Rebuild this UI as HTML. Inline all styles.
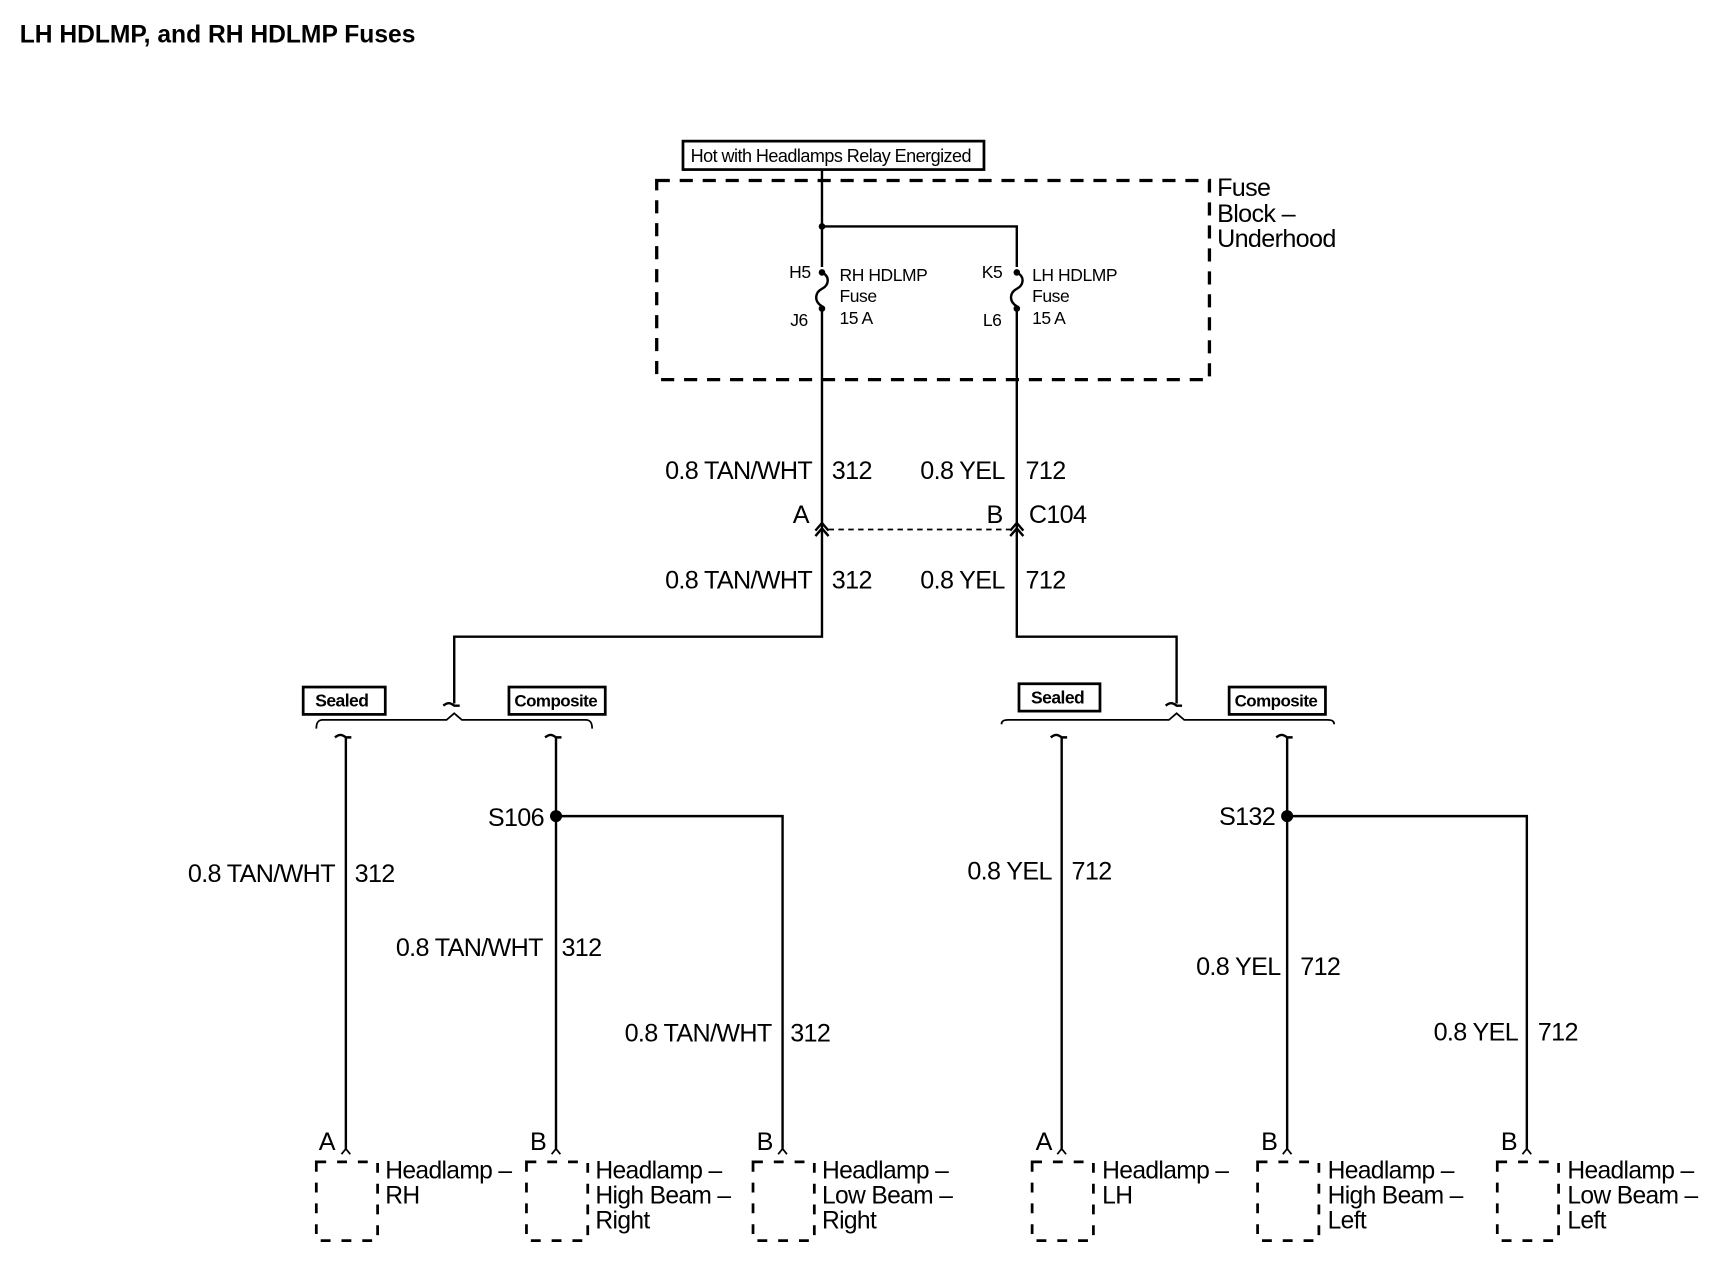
<!DOCTYPE html>
<html><head><meta charset="utf-8"><style>
html,body{margin:0;padding:0;background:#fff;}
svg{display:block;}
text{font-family:"Liberation Sans",sans-serif;fill:#000;}
</style></head><body>
<svg width="1714" height="1280" viewBox="0 0 1566 1170" preserveAspectRatio="none" xmlns="http://www.w3.org/2000/svg">
<text x="18" y="39" font-size="22.5" font-weight="bold">LH HDLMP, and RH HDLMP Fuses</text>
<rect x="624" y="129" width="275" height="26" fill="none" stroke="#000" stroke-width="2.5"/>
<text x="631" y="148" font-size="16.5" letter-spacing="-0.5">Hot with Headlamps Relay Energized</text>
<rect x="600" y="165" width="505" height="182" fill="none" stroke="#000" stroke-width="3" stroke-dasharray="12,9"/>
<g font-size="23" letter-spacing="-0.6">
<text x="1112" y="179">Fuse</text><text x="1112" y="203">Block –</text><text x="1112" y="226">Underhood</text>
</g>
<g stroke="#000" stroke-width="2.2" fill="none">
<path d="M751 155V244M751 207H929V244"/>
<path d="M751 249c8 4 6 12 0 15c-6 3-8 11 0 16"/>
<path d="M929 249c8 4 6 12 0 15c-6 3-8 11 0 16"/>
<path d="M751 284V582H415V643"/>
<path d="M929 284V582H1075V643"/>
<path d="M745 490l6-7 6 7M745 485l6-7 6 7"/>
<path d="M923 490l6-7 6 7M923 485l6-7 6 7"/>
<path d="M757 484H923" stroke-dasharray="5,4" stroke-width="1.6"/>
<path d="M405 645c4-3 6-3 10 0h5M1065 645c4-3 6-3 10 0h5"/>
<path d="M289 666c0-6 2-8 6-8H408l7-6 7 6H535c4 0 6 2 6 8" stroke-width="1.6"/>
<path d="M915 662c0-3 2-4 6-4H1068l7-6 7 6H1213c4 0 6 1 6 4" stroke-width="1.6"/>
<path d="M306 674c4-3 6-3 10 0h5M498 674c4-3 6-3 10 0h5M960 674c4-3 6-3 10 0h5M1166 674c4-3 6-3 10 0h5" />
<path d="M316 674V1050M508 674V1050M508 746H715V1050M970 674V1050M1176 674V1050M1176 746H1395V1050"/>
<path d="M312 1055l4-5 4 5M504 1055l4-5 4 5M711 1055l4-5 4 5M966 1055l4-5 4 5M1172 1055l4-5 4 5M1391 1055l4-5 4 5" stroke-width="1.6"/>
</g>
<g fill="#000">
<circle cx="751" cy="207" r="3"/><circle cx="751" cy="249" r="3"/><circle cx="751" cy="282" r="3"/>
<circle cx="929" cy="249" r="3"/><circle cx="929" cy="282" r="3"/>
<circle cx="508" cy="746" r="5.5"/><circle cx="1176" cy="746" r="5.5"/>
</g>
<g font-size="16" letter-spacing="-0.4">
<text x="721" y="254">H5</text><text x="722" y="298">J6</text>
<text x="767" y="257">RH HDLMP</text><text x="767" y="276">Fuse</text><text x="767" y="296">15 A</text>
<text x="897" y="254">K5</text><text x="898" y="298">L6</text>
<text x="943" y="257">LH HDLMP</text><text x="943" y="276">Fuse</text><text x="943" y="296">15 A</text>
</g>
<g font-size="23" letter-spacing="-0.6">
<text x="742" y="438" text-anchor="end">0.8 TAN/WHT</text><text x="760" y="438">312</text>
<text x="918" y="438" text-anchor="end">0.8 YEL</text><text x="937" y="438">712</text>
<text x="739" y="478" text-anchor="end">A</text><text x="916" y="478" text-anchor="end">B</text><text x="940" y="478">C104</text>
<text x="742" y="538" text-anchor="end">0.8 TAN/WHT</text><text x="760" y="538">312</text>
<text x="918" y="538" text-anchor="end">0.8 YEL</text><text x="937" y="538">712</text>
<text x="306" y="806" text-anchor="end">0.8 TAN/WHT</text><text x="324" y="806">312</text>
<text x="497" y="755" text-anchor="end">S106</text>
<text x="496" y="874" text-anchor="end">0.8 TAN/WHT</text><text x="513" y="874">312</text>
<text x="705" y="952" text-anchor="end">0.8 TAN/WHT</text><text x="722" y="952">312</text>
<text x="961" y="804" text-anchor="end">0.8 YEL</text><text x="979" y="804">712</text>
<text x="1165" y="754" text-anchor="end">S132</text>
<text x="1170" y="891" text-anchor="end">0.8 YEL</text><text x="1188" y="891">712</text>
<text x="1387" y="951" text-anchor="end">0.8 YEL</text><text x="1405" y="951">712</text>
<text x="306" y="1051" text-anchor="end">A</text><text x="499" y="1051" text-anchor="end">B</text>
<text x="706" y="1051" text-anchor="end">B</text><text x="961" y="1051" text-anchor="end">A</text>
<text x="1167" y="1051" text-anchor="end">B</text><text x="1386" y="1051" text-anchor="end">B</text>
</g>
<g font-size="16" font-weight="bold" letter-spacing="-0.5">
<rect x="277" y="628" width="75" height="25" fill="none" stroke="#000" stroke-width="2.5"/><text x="288" y="646">Sealed</text>
<rect x="465" y="628" width="88" height="25" fill="none" stroke="#000" stroke-width="2.5"/><text x="470" y="646" font-size="15.5">Composite</text>
<rect x="931" y="625" width="74" height="25" fill="none" stroke="#000" stroke-width="2.5"/><text x="942" y="643">Sealed</text>
<rect x="1123" y="628" width="88" height="25" fill="none" stroke="#000" stroke-width="2.5"/><text x="1128" y="646" font-size="15.5">Composite</text>
</g>
<g fill="none" stroke="#000" stroke-width="2.5" stroke-dasharray="9,10">
<rect x="289" y="1062" width="56" height="72"/>
<rect x="481" y="1062" width="56" height="72"/>
<rect x="688" y="1062" width="56" height="72"/>
<rect x="943" y="1062" width="56" height="72"/>
<rect x="1149" y="1062" width="56" height="72"/>
<rect x="1368" y="1062" width="56" height="72"/>
</g>
<g font-size="22.5" letter-spacing="-0.6">
<text x="352" y="1077">Headlamp –</text><text x="352" y="1100">RH</text>
<text x="544" y="1077">Headlamp –</text><text x="544" y="1100">High Beam –</text><text x="544" y="1123">Right</text>
<text x="751" y="1077">Headlamp –</text><text x="751" y="1100">Low Beam –</text><text x="751" y="1123">Right</text>
<text x="1007" y="1077">Headlamp –</text><text x="1007" y="1100">LH</text>
<text x="1213" y="1077">Headlamp –</text><text x="1213" y="1100">High Beam –</text><text x="1213" y="1123">Left</text>
<text x="1432" y="1077">Headlamp –</text><text x="1432" y="1100">Low Beam –</text><text x="1432" y="1123">Left</text>
</g>
</svg>
</body></html>
